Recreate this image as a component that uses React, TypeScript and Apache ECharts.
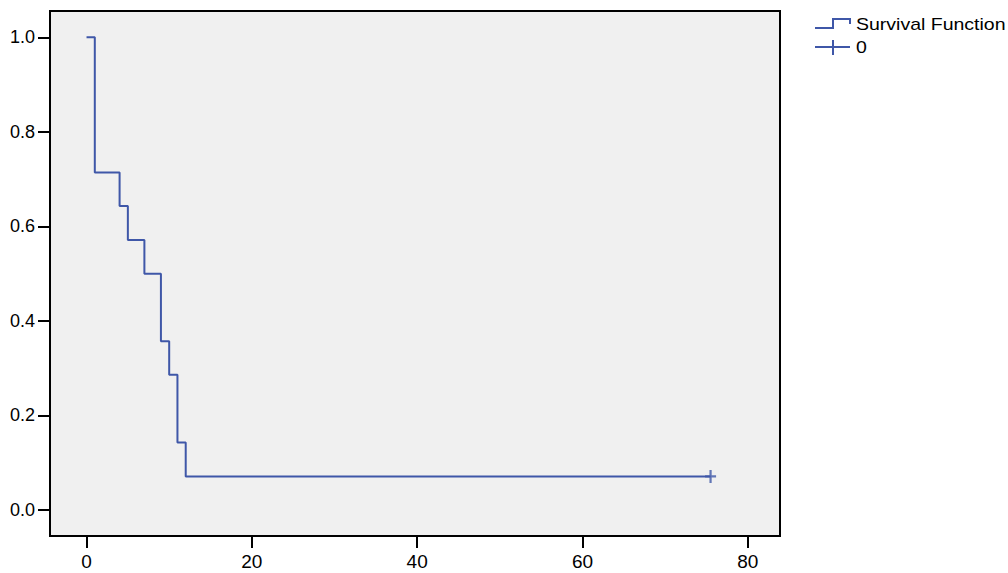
import React, { useEffect, useRef } from "react";
import * as echarts from "echarts";

const times = [0, 1, 4, 5, 7, 9, 10, 11, 12, 75.5];
const survival = [1.0, 0.714, 0.643, 0.571, 0.5, 0.357, 0.286, 0.143, 0.071, 0.071];
const censored = [[75.5, 0.071]];
const xTicks = [0, 20, 40, 60, 80];
const yTicks = [0, 0.2, 0.4, 0.6, 0.8, 1.0];
const legendNames = ["Survival Function", "0"];

const LINE = "#3F57A8";
const FONT = "'Liberation Sans', Arial, sans-serif";

export default function App() {
  const ref = useRef<HTMLDivElement>(null);
  useEffect(() => {
    if (!ref.current) return;
    const chart = echarts.init(ref.current, undefined, { renderer: "svg" });
    const stepData = times.map((t, i) => [t, survival[i]]);
    chart.setOption({
      animation: false,
      backgroundColor: "#ffffff",
      grid: {
        left: 50,
        top: 11,
        right: 228,
        bottom: 37,
        show: true,
        backgroundColor: "#f0f0f0",
        borderColor: "#000",
        borderWidth: 2,
      },
      xAxis: {
        type: "value",
        min: -4.42,
        max: 83.9,
        splitLine: { show: false },
        axisLine: { show: true, onZero: false, lineStyle: { color: "#000", width: 2 } },
        axisTick: { show: true, length: 12, customValues: xTicks, lineStyle: { color: "#000", width: 2 } },
        axisLabel: {
          customValues: xTicks,
          margin: 16,
          color: "#000",
          fontSize: 19,
          fontFamily: FONT,
        },
      },
      yAxis: {
        type: "value",
        min: -0.055,
        max: 1.0556,
        splitLine: { show: false },
        axisLine: { show: true, onZero: false, lineStyle: { color: "#000", width: 2 } },
        axisTick: { show: true, length: 12, customValues: yTicks, lineStyle: { color: "#000", width: 2 } },
        axisLabel: {
          customValues: yTicks,
          margin: 15,
          color: "#000",
          fontSize: 18,
          fontFamily: FONT,
          formatter: (v: number) => v.toFixed(1),
        },
      },
      series: [
        {
          name: legendNames[0],
          type: "line",
          step: "end",
          data: stepData,
          symbol: "none",
          lineStyle: { color: LINE, width: 2 },
        },
        {
          name: legendNames[1],
          type: "scatter",
          data: censored,
          symbol: "path://M-1,-6H1V-1H5V1H1V6H-1V1H-5V-1H-1Z",
          symbolSize: [11, 13],
          itemStyle: { color: LINE },
        },
      ],
      graphic: [
        {
          type: "polyline",
          shape: { points: [[815, 28], [833, 28], [833, 19], [850, 19], [850, 24]] },
          style: { stroke: LINE, lineWidth: 2, fill: null },
        },
        {
          type: "line",
          shape: { x1: 815, y1: 47, x2: 850, y2: 47 },
          style: { stroke: LINE, lineWidth: 2 },
        },
        {
          type: "line",
          shape: { x1: 833, y1: 40, x2: 833, y2: 55 },
          style: { stroke: LINE, lineWidth: 2 },
        },
        {
          type: "text",
          x: 856,
          y: 25,
          scaleX: 1.22,
          style: {
            text: legendNames[0],
            fontSize: 16,
            fontFamily: FONT,
            fill: "#000",
            verticalAlign: "middle",
          },
        },
        {
          type: "text",
          x: 856,
          y: 48,
          scaleX: 1.22,
          style: {
            text: legendNames[1],
            fontSize: 16,
            fontFamily: FONT,
            fill: "#000",
            verticalAlign: "middle",
          },
        },
      ],
    });
    return () => chart.dispose();
  }, []);
  return (
    <div
      ref={ref}
      style={{ position: "fixed", left: 0, top: 0, width: 1008, height: 573 }}
    />
  );
}
